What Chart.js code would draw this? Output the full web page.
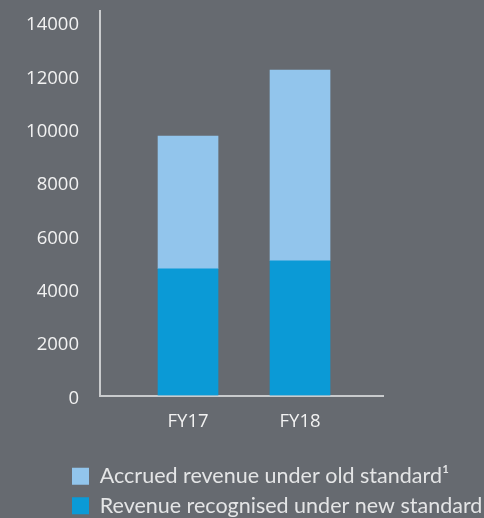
<!DOCTYPE html>
<html>
<head>
<meta charset="utf-8">
<script src="https://cdn.jsdelivr.net/npm/chart.js@4/dist/chart.umd.min.js"></script>
<style>
  html, body { margin: 0; padding: 0; background: #666a70; }
  #wrap { width: 484px; height: 518px; }
</style>
</head>
<body>
<div id="wrap"><canvas id="chart" width="484" height="518"></canvas></div>
<script>
// data
const years = ['FY17', 'FY18'];
const recognisedNew = [4750, 5050];   // dark blue, bottom of stack
const accruedOld = [4970, 7150];      // light blue, on top
const yTicks = [0, 2000, 4000, 6000, 8000, 10000, 12000, 14000];

const toPoints = (arr) => arr.map((v, i) => ({ x: i, y: v }));

// legend starts under the axis labels and may run to the right edge
const legendSpan = {
    id: 'legendSpan',
    afterLayout(chart) {
        chart.legend.left = 64;
        chart.legend.right = chart.width;
    }
};

const ctx = document.getElementById('chart').getContext('2d');
new Chart(ctx, {
    type: 'bar',
    data: {
        datasets: [
            {
                label: 'Revenue recognised under new standard',
                data: toPoints(recognisedNew),
                backgroundColor: '#0b9ad6',
                borderWidth: 0,
                barThickness: 60
            },
            {
                label: 'Accrued revenue under old standard\u00b9',
                data: toPoints(accruedOld),
                backgroundColor: '#92c5ec',
                borderWidth: 0,
                barThickness: 60
            }
        ]
    },
    plugins: [legendSpan],
    options: {
        responsive: false,
        animation: false,
        layout: {
            padding: { left: 0, right: 101, top: 11.3, bottom: -8.5 }
        },
        plugins: {
            tooltip: { enabled: false },
            legend: {
                position: 'bottom',
                align: 'start',
                reverse: true,
                labels: {
                    boxWidth: 17,
                    boxHeight: 17,
                    padding: 8,
                    color: '#e4e5e6',
                    font: { family: 'Lato', size: 21.5 }
                }
            }
        },
        scales: {
            x: {
                type: 'linear',
                stacked: true,
                offset: false,
                min: -0.786,
                max: 1.741,
                grid: { display: false, offset: false },
                border: { display: true, color: '#c9cbcd', width: 2 },
                afterBuildTicks: (s) => { s.ticks = years.map((_, i) => ({ value: i })); },
                afterFit: (s) => { s.height = 62; s.paddingLeft = 0; s.paddingRight = 0; },
                ticks: {
                    padding: 7,
                    color: '#f2f2f2',
                    font: { family: 'Open Sans', size: 18.5 },
                    callback: (v) => years[v]
                }
            },
            y: {
                stacked: true,
                min: 0,
                max: 14400,
                grid: { display: false },
                border: { display: true, color: '#c9cbcd', width: 2 },
                afterBuildTicks: (s) => { s.ticks = yTicks.map(v => ({ value: v })); },
                afterFit: (s) => { s.width = 100; s.paddingTop = 0; s.paddingBottom = 0; },
                ticks: {
                    padding: 13,
                    labelOffset: 3,
                    color: '#f2f2f2',
                    font: { family: 'Open Sans', size: 18.5 },
                    callback: (v) => String(v)
                }
            }
        }
    }
});
</script>
</body>
</html>
